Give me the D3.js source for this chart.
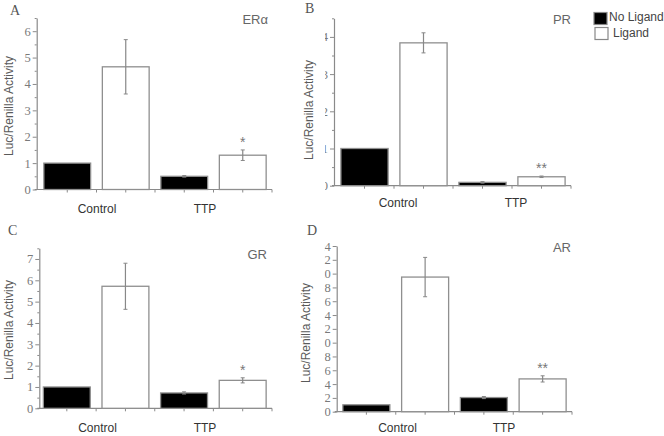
<!DOCTYPE html>
<html><head><meta charset="utf-8">
<script src="https://cdn.jsdelivr.net/npm/d3@7/dist/d3.min.js"></script>
<style>body{margin:0;background:#fff}svg{display:block}</style>
</head><body><svg id="c" width="664" height="436"></svg>
<script>
// ---- data ----
const categories = ["Control", "TTP"];
const seriesNames = ["No Ligand", "Ligand"];

const erNoLig = [1.00, 0.50], erNoLigErr = [0, 0.03], erLig = [4.65, 1.30], erLigErr = [1.03, 0.20];
const prNoLig = [1.00, 0.09], prNoLigErr = [0, 0.02], prLig = [3.84, 0.24], prLigErr = [0.27, 0.02];
const grNoLig = [1.00, 0.72], grNoLigErr = [0, 0.05], grLig = [5.72, 1.31], grLigErr = [1.08, 0.12];
const arNoLig = [1.00, 2.05], arNoLigErr = [0, 0.15], arLig = [19.5, 4.75], arLigErr = [2.85, 0.45];

const erSig = ["", "*"], prSig = ["", "**"], grSig = ["", "*"], arSig = ["", "**"];

const erTicks = [0, 1, 2, 3, 4, 5, 6];
const prTicks = [0, 1, 2, 3, 4];
const grTicks = [0, 1, 2, 3, 4, 5, 6, 7];
const arTicks = [0, 2, 4, 6, 8, 10, 12, 14, 16, 18, 20, 22, 24];
const erMax = 6.5, prMax = 4.5, grMax = 7.5, arMax = 24;
const erMinorStep = 0.5, prMinorStep = 0.5, grMinorStep = 0.5, arMinorStep = 0;

const yLabel = "Luc/Renilla Activity";

// ---- layout (positions / styles only) ----
const panels = [
  { id: "A", name: "ERα", noLig: erNoLig, noLigErr: erNoLigErr, lig: erLig, ligErr: erLigErr, sig: erSig, ticks: erTicks, max: erMax, minor: erMinorStep,
    axisX: 36.7, xr: [38, 272], yr: [189.5, 18], letter: [10, 15], ylab: [9, 106], rec: [268, 24], cat: [97, 205], catY: 213, clip: null },
  { id: "B", name: "PR", noLig: prNoLig, noLigErr: prNoLigErr, lig: prLig, ligErr: prLigErr, sig: prSig, ticks: prTicks, max: prMax, minor: prMinorStep,
    axisX: 334, xr: [335, 571], yr: [185.7, 18.3], letter: [305, 13], ylab: [309, 110], rec: [571, 24], cat: [398, 516], catY: 207, clip: 325 },
  { id: "C", name: "GR", noLig: grNoLig, noLigErr: grNoLigErr, lig: grLig, ligErr: grLigErr, sig: grSig, ticks: grTicks, max: grMax, minor: grMinorStep,
    axisX: 39.3, xr: [37.5, 272], yr: [408.3, 248.3], letter: [8, 235], ylab: [9, 330], rec: [267, 259], cat: [97.5, 205], catY: 432, clip: null },
  { id: "D", name: "AR", noLig: arNoLig, noLigErr: arNoLigErr, lig: arLig, ligErr: arLigErr, sig: arSig, ticks: arTicks, max: arMax, minor: arMinorStep,
    axisX: 336.7, xr: [337, 572], yr: [411.7, 246], letter: [307, 235], ylab: [306, 333], rec: [571, 252], cat: [397.5, 504], catY: 432, clip: 324.5 }
];

const svg = d3.select("#c");
const defs = svg.append("defs");
const axisColor = "#8a8a8a";
const fills = { "No Ligand": "#000", "Ligand": "#fff" };

panels.forEach(p => {
  const g = svg.append("g");
  const keys = [];
  categories.forEach(c => seriesNames.forEach(s => keys.push(c + "|" + s)));
  const x = d3.scaleBand().domain(keys).range(p.xr).paddingInner(0.2).paddingOuter(0.1);
  const y = d3.scaleLinear().domain([0, p.max]).range(p.yr);

  const rows = [];
  categories.forEach((c, i) => {
    rows.push({ key: c + "|No Ligand", s: "No Ligand", v: p.noLig[i], e: p.noLigErr[i], sig: "" });
    rows.push({ key: c + "|Ligand", s: "Ligand", v: p.lig[i], e: p.ligErr[i], sig: p.sig[i] });
  });

  // y axis
  const yAxisG = g.append("g").attr("transform", `translate(${p.axisX},0)`)
    .call(d3.axisLeft(y).tickValues(p.ticks).tickSize(4).tickSizeOuter(0).tickPadding(2).tickFormat(d3.format("d")));
  yAxisG.select(".domain").attr("stroke", axisColor).attr("stroke-width", 1.2);
  yAxisG.selectAll(".tick line").attr("stroke", axisColor);
  yAxisG.selectAll(".tick text").attr("fill", "#7a7a7a").style("font-family", "'Liberation Serif', 'DejaVu Serif', serif").style("font-size", "12.5px");
  if (p.clip) {
    const cid = "clip" + p.id;
    defs.append("clipPath").attr("id", cid)
      .append("rect").attr("x", p.clip - p.axisX).attr("y", -10).attr("width", 400).attr("height", 460);
    yAxisG.attr("clip-path", `url(#${cid})`);
  }
  if (p.minor) {
    const minorVals = d3.range(p.minor, p.max + 1e-9, p.minor).filter(v => !p.ticks.includes(v));
    const mg = g.append("g").attr("transform", `translate(${p.axisX},0)`)
      .call(d3.axisLeft(y).tickValues(minorVals).tickSize(2).tickSizeOuter(0).tickFormat(""));
    mg.select(".domain").remove();
    mg.selectAll(".tick line").attr("stroke", axisColor);
  }

  // x axis
  const y0 = y(0);
  g.append("line").attr("x1", p.axisX - 2).attr("x2", p.xr[1]).attr("y1", y0).attr("y2", y0)
    .attr("stroke", axisColor).attr("stroke-width", 1.2);
  const step = x.step(), bw = x.bandwidth();
  const xt = [];
  keys.forEach(k => { xt.push(x(k) + bw / 2); xt.push(x(k) + bw + (step - bw) / 2); });
  g.selectAll(".xt").data(xt).join("line").attr("x1", d => d).attr("x2", d => d)
    .attr("y1", y0).attr("y2", y0 + 3).attr("stroke", axisColor);

  // bars
  g.selectAll(".bar").data(rows).join("rect")
    .attr("x", d => x(d.key)).attr("width", bw)
    .attr("y", d => y(d.v)).attr("height", d => y0 - y(d.v))
    .attr("fill", d => fills[d.s]).attr("stroke", "#8f8f8f").attr("stroke-width", 1.3);

  // error bars
  const eb = rows.filter(d => d.e > 0);
  const eg = g.selectAll(".eb").data(eb).join("g");
  eg.append("line").attr("x1", d => x(d.key) + bw / 2).attr("x2", d => x(d.key) + bw / 2)
    .attr("y1", d => y(d.v + d.e)).attr("y2", d => y(d.v - d.e)).attr("stroke", "#888").attr("stroke-width", 1.2);
  eg.append("line").attr("x1", d => x(d.key) + bw / 2 - 2).attr("x2", d => x(d.key) + bw / 2 + 2)
    .attr("y1", d => y(d.v + d.e)).attr("y2", d => y(d.v + d.e)).attr("stroke", "#888");
  eg.append("line").attr("x1", d => x(d.key) + bw / 2 - 2).attr("x2", d => x(d.key) + bw / 2 + 2)
    .attr("y1", d => y(d.v - d.e)).attr("y2", d => y(d.v - d.e)).attr("stroke", "#888");

  // significance
  g.selectAll(".sig").data(rows.filter(d => d.sig)).join("text")
    .attr("x", d => x(d.key) + bw / 2).attr("y", d => y(d.v + d.e) - 3)
    .attr("text-anchor", "middle").attr("fill", "#777")
    .style("font-family", "'Liberation Sans', Arial, sans-serif").style("font-size", "14px")
    .text(d => d.sig);

  // category labels
  g.selectAll(".cat").data(categories).join("text")
    .attr("x", (d, i) => p.cat[i]).attr("y", p.catY).attr("text-anchor", "middle")
    .attr("fill", "#333").style("font-family", "'Liberation Sans', Arial, sans-serif").style("font-size", "12px")
    .text(d => d);

  // y label
  g.append("text").attr("transform", `translate(${p.ylab[0]},${p.ylab[1]}) rotate(-90)`)
    .attr("text-anchor", "middle").attr("dy", "0.35em").attr("fill", "#5a5a5a")
    .style("font-family", "'Liberation Sans', Arial, sans-serif").style("font-size", "12px")
    .text(yLabel);

  // panel letter
  g.append("text").attr("x", p.letter[0]).attr("y", p.letter[1]).attr("fill", "#555")
    .style("font-family", "'Liberation Serif', serif").style("font-size", "14px").text(p.id);

  // receptor label
  g.append("text").attr("x", p.rec[0]).attr("y", p.rec[1]).attr("text-anchor", "end").attr("fill", "#666")
    .style("font-family", "'Liberation Sans', Arial, sans-serif").style("font-size", "13px").text(p.name);
});

// legend
const lg = svg.append("g");
const legendPos = [[594, 12.5, 609, 21], [595, 27.5, 613, 37]];
seriesNames.forEach((s, i) => {
  const [rx, ry, tx, ty] = legendPos[i];
  lg.append("rect").attr("x", rx).attr("y", ry).attr("width", 13).attr("height", 12)
    .attr("fill", fills[s]).attr("stroke", "#888").attr("stroke-width", 1.2);
  lg.append("text").attr("x", tx).attr("y", ty).attr("fill", "#444")
    .style("font-family", "'Liberation Sans', Arial, sans-serif").style("font-size", "12px").text(s);
});
</script></body></html>
